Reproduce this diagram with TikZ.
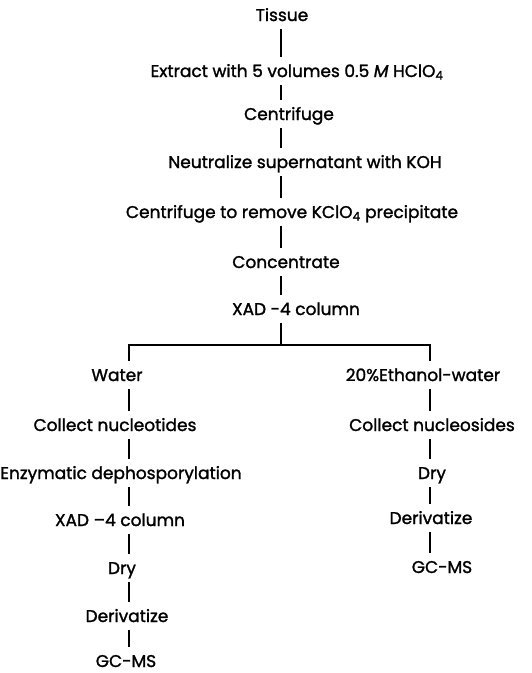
\documentclass[tikz,border=0pt]{standalone}
\usepackage{fontspec}
\setmainfont{Poppins}[FakeBold=1.5]
\begin{document}
\begin{tikzpicture}[x=1pt,y=-1pt,
  lbl/.style={font=\fontsize{17}{20}\selectfont, inner xsep=0pt, inner ysep=8pt, text height=12pt, text depth=0pt},
  conn/.style={line width=1.8pt}]
\useasboundingbox (0,0) rectangle (531,673);
\coordinate (sp) at (281,0);
\coordinate (lsp) at (129,0);
\coordinate (rsp) at (430,0);
\coordinate (brkL) at (129,345);
\coordinate (brkR) at (430,345);

\node[lbl] (tissue) at (282,15) {Tissue};
\node[lbl] (extract) at (297,71) {Extract with 5 volumes 0.5 \textit{M} HClO\textsubscript{4}};
\node[lbl] (cent1) at (289,114) {Centrifuge};
\node[lbl] (neut) at (305,162) {Neutralize supernatant with KOH};
\node[lbl] (cent2) at (292,212) {Centrifuge to remove KClO\textsubscript{4} precipitate};
\node[lbl] (conc) at (286,262) {Concentrate};
\node[lbl] (xad) at (296,309) {XAD -4 column};

\node[lbl] (water) at (117,375) {Water};
\node[lbl] (colnt) at (115,425) {Collect nucleotides};
\node[lbl] (enz) at (121,473) {Enzymatic dephosporylation};
\node[lbl] (xadL) at (120,520) {XAD –4 column};
\node[lbl] (dryL) at (122,568) {Dry};
\node[lbl] (derL) at (127,616) {Derivatize};
\node[lbl] (gcL) at (126,661) {GC-MS};

\node[lbl] (eth) at (423,375) {20\%Ethanol-water};
\node[lbl] (colns) at (432,425) {Collect nucleosides};
\node[lbl] (dryR) at (432,473) {Dry};
\node[lbl] (derR) at (431,518) {Derivatize};
\node[lbl] (gcR) at (442,567) {GC-MS};

\foreach \a/\b in {tissue/extract, extract/cent1, cent1/neut, neut/cent2, cent2/conc, conc/xad}
  \draw[conn] (\a.south -| sp) -- (\b.north -| sp);
\draw[conn] (xad.south -| sp) -- (sp |- brkL);
\draw[conn] (water.north -| brkL) -- (brkL) -- (brkR) -- (eth.north -| brkR);
\foreach \a/\b in {water/colnt, colnt/enz, enz/xadL, xadL/dryL, dryL/derL, derL/gcL}
  \draw[conn] (\a.south -| lsp) -- (\b.north -| lsp);
\foreach \a/\b in {eth/colns, colns/dryR, dryR/derR, derR/gcR}
  \draw[conn] (\a.south -| rsp) -- (\b.north -| rsp);
\end{tikzpicture}
\end{document}
